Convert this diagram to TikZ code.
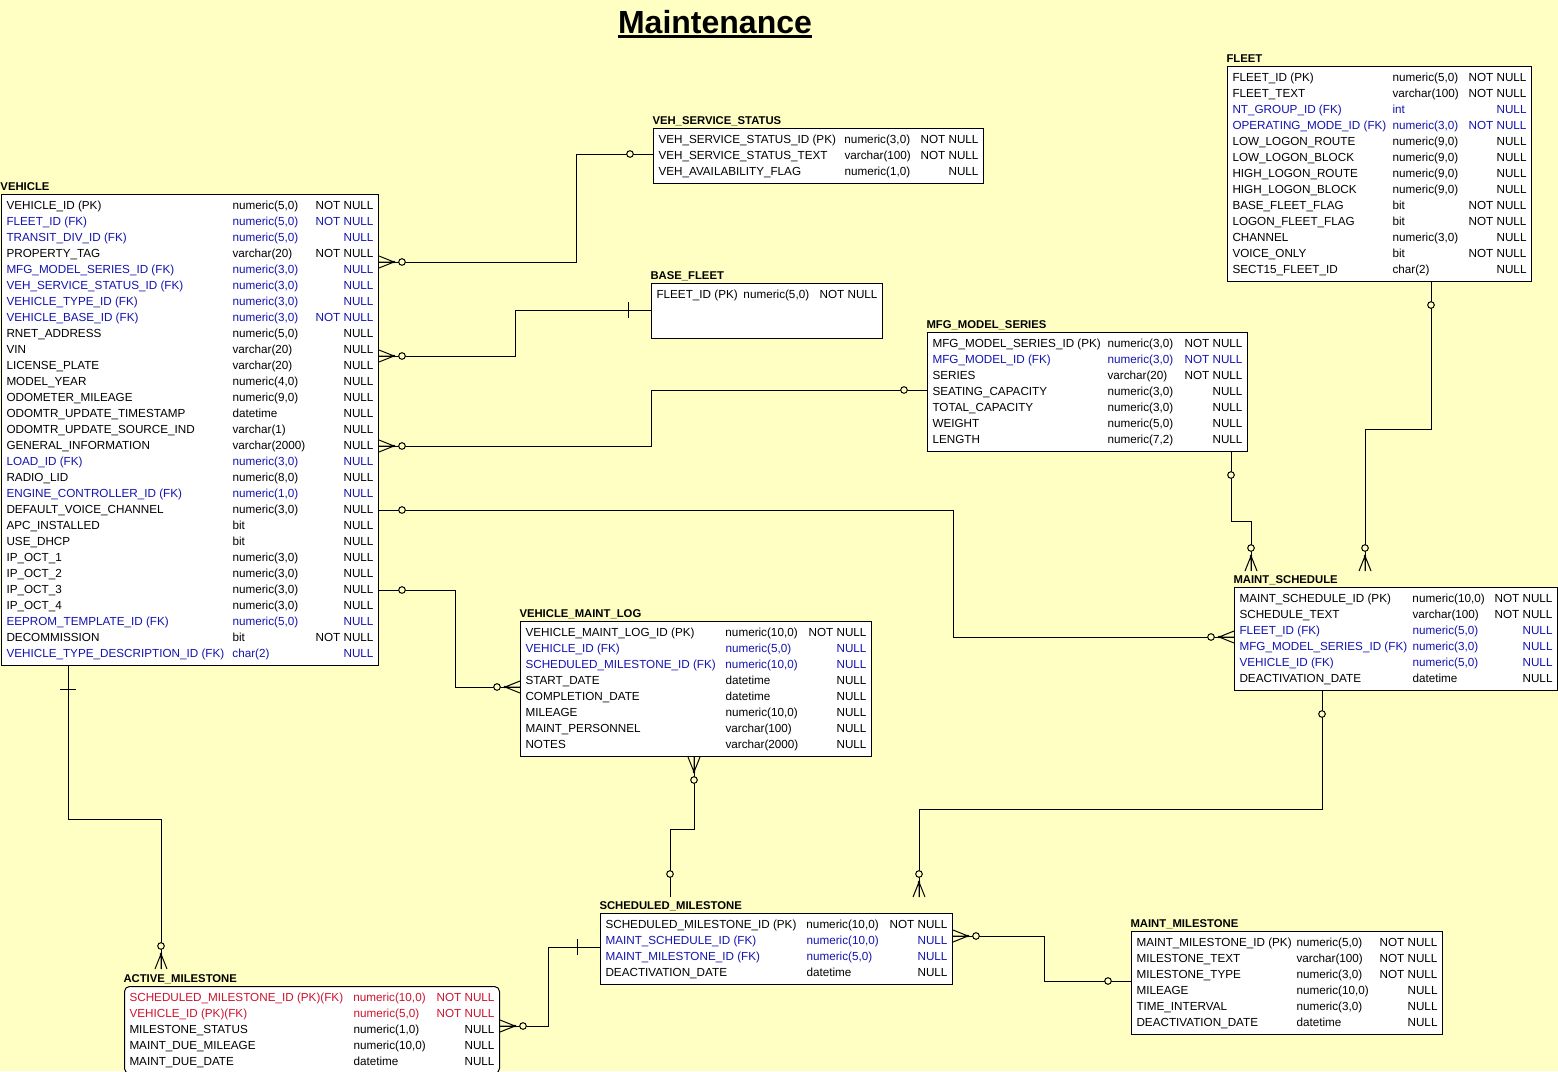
\documentclass[tikz,border=0pt]{standalone}
\usepackage{fontspec}
\setmainfont{Liberation Sans}
\usepackage{tikz}

\definecolor{bgc}{RGB}{255,255,196}
\definecolor{fkc}{RGB}{20,20,176}
\definecolor{pkc}{RGB}{204,20,48}

\newlength{\colA}
\newlength{\colB}
\newcommand{\rw}[4][black]{\textcolor{#1}{\makebox[\colA][l]{#2}\rlap{#3}\makebox[\colB][r]{#4}}\\}

\tikzset{
  tbl/.style={draw, fill=white, inner xsep=5pt, inner ysep=3.5pt, anchor=north west, font=\fontsize{11.7}{16}\selectfont},
  cols/.code 2 args={\setlength{\colA}{#1pt}\setlength{\colB}{#2pt}},
  ttl/.style={anchor=base west, inner sep=0pt, font=\fontsize{11.3}{13}\selectfont\bfseries},
  crow/.pic={\draw (0,-6) -- (15,0) -- (0,6) (0,0) -- (15,0); \fill (15,0) circle (1.4pt); \draw[fill=bgc] (23,0) circle (3.3pt);},
  opt/.pic={\draw[fill=bgc] (23,0) circle (3.3pt);},
  one/.pic={\draw (23,-8) -- (23,8);}
}

\begin{document}
\begin{tikzpicture}[x=1pt,y=-1pt,line width=1pt]

\path[use as bounding box, fill=bgc] (0,0) rectangle (1558,1071);
\clip (0,0) rectangle (1558,1071);

\node[anchor=base, inner sep=0pt, font=\fontsize{32}{38}\selectfont\bfseries] (maint) at (715,33) {Maintenance};
\draw[line width=2.4pt] ([yshift=-3.5pt]maint.base west) -- ([yshift=-3.5pt]maint.base east);

% tables
\node[tbl, cols={226}{141}] (vehicle) at (1,194) {\begin{tabular}{@{}l@{}}
\rw{VEHICLE\_ID (PK)}{numeric(5,0)}{NOT NULL}
\rw[fkc]{FLEET\_ID (FK)}{numeric(5,0)}{NOT NULL}
\rw[fkc]{TRANSIT\_DIV\_ID (FK)}{numeric(5,0)}{NULL}
\rw{PROPERTY\_TAG}{varchar(20)}{NOT NULL}
\rw[fkc]{MFG\_MODEL\_SERIES\_ID (FK)}{numeric(3,0)}{NULL}
\rw[fkc]{VEH\_SERVICE\_STATUS\_ID (FK)}{numeric(3,0)}{NULL}
\rw[fkc]{VEHICLE\_TYPE\_ID (FK)}{numeric(3,0)}{NULL}
\rw[fkc]{VEHICLE\_BASE\_ID (FK)}{numeric(3,0)}{NOT NULL}
\rw{RNET\_ADDRESS}{numeric(5,0)}{NULL}
\rw{VIN}{varchar(20)}{NULL}
\rw{LICENSE\_PLATE}{varchar(20)}{NULL}
\rw{MODEL\_YEAR}{numeric(4,0)}{NULL}
\rw{ODOMETER\_MILEAGE}{numeric(9,0)}{NULL}
\rw{ODOMTR\_UPDATE\_TIMESTAMP}{datetime}{NULL}
\rw{ODOMTR\_UPDATE\_SOURCE\_IND}{varchar(1)}{NULL}
\rw{GENERAL\_INFORMATION}{varchar(2000)}{NULL}
\rw[fkc]{LOAD\_ID (FK)}{numeric(3,0)}{NULL}
\rw{RADIO\_LID}{numeric(8,0)}{NULL}
\rw[fkc]{ENGINE\_CONTROLLER\_ID (FK)}{numeric(1,0)}{NULL}
\rw{DEFAULT\_VOICE\_CHANNEL}{numeric(3,0)}{NULL}
\rw{APC\_INSTALLED}{bit}{NULL}
\rw{USE\_DHCP}{bit}{NULL}
\rw{IP\_OCT\_1}{numeric(3,0)}{NULL}
\rw{IP\_OCT\_2}{numeric(3,0)}{NULL}
\rw{IP\_OCT\_3}{numeric(3,0)}{NULL}
\rw{IP\_OCT\_4}{numeric(3,0)}{NULL}
\rw[fkc]{EEPROM\_TEMPLATE\_ID (FK)}{numeric(5,0)}{NULL}
\rw{DECOMMISSION}{bit}{NOT NULL}
\rw[fkc]{VEHICLE\_TYPE\_DESCRIPTION\_ID (FK)}{char(2)}{NULL}
\end{tabular}};
\node[ttl] (vehicle-t) at ([shift={(-1,-4)}]vehicle.north west) {VEHICLE};

\node[tbl, cols={186}{134}] (vss) at (653,128) {\begin{tabular}{@{}l@{}}
\rw{VEH\_SERVICE\_STATUS\_ID (PK)}{numeric(3,0)}{NOT NULL}
\rw{VEH\_SERVICE\_STATUS\_TEXT}{varchar(100)}{NOT NULL}
\rw{VEH\_AVAILABILITY\_FLAG}{numeric(1,0)}{NULL}
\end{tabular}};
\node[ttl] (vss-t) at ([shift={(-1,-4)}]vss.north west) {VEH\_SERVICE\_STATUS};

\node[tbl, cols={87}{134}] (bfleet) at (651,283) {\begin{tabular}{@{}l@{}}
\rw{FLEET\_ID (PK)}{numeric(5,0)}{NOT NULL}
\rw{}{}{}
\rw{}{}{}
\end{tabular}};
\node[ttl] (bfleet-t) at ([shift={(-1,-4)}]bfleet.north west) {BASE\_FLEET};

\node[tbl, cols={175}{135}] (mfg) at (927,332) {\begin{tabular}{@{}l@{}}
\rw{MFG\_MODEL\_SERIES\_ID (PK)}{numeric(3,0)}{NOT NULL}
\rw[fkc]{MFG\_MODEL\_ID (FK)}{numeric(3,0)}{NOT NULL}
\rw{SERIES}{varchar(20)}{NOT NULL}
\rw{SEATING\_CAPACITY}{numeric(3,0)}{NULL}
\rw{TOTAL\_CAPACITY}{numeric(3,0)}{NULL}
\rw{WEIGHT}{numeric(5,0)}{NULL}
\rw{LENGTH}{numeric(7,2)}{NULL}
\end{tabular}};
\node[ttl] (mfg-t) at ([shift={(-1,-4)}]mfg.north west) {MFG\_MODEL\_SERIES};

\node[tbl, cols={160}{134}] (fleet) at (1227,66) {\begin{tabular}{@{}l@{}}
\rw{FLEET\_ID (PK)}{numeric(5,0)}{NOT NULL}
\rw{FLEET\_TEXT}{varchar(100)}{NOT NULL}
\rw[fkc]{NT\_GROUP\_ID (FK)}{int}{NULL}
\rw[fkc]{OPERATING\_MODE\_ID (FK)}{numeric(3,0)}{NOT NULL}
\rw{LOW\_LOGON\_ROUTE}{numeric(9,0)}{NULL}
\rw{LOW\_LOGON\_BLOCK}{numeric(9,0)}{NULL}
\rw{HIGH\_LOGON\_ROUTE}{numeric(9,0)}{NULL}
\rw{HIGH\_LOGON\_BLOCK}{numeric(9,0)}{NULL}
\rw{BASE\_FLEET\_FLAG}{bit}{NOT NULL}
\rw{LOGON\_FLEET\_FLAG}{bit}{NOT NULL}
\rw{CHANNEL}{numeric(3,0)}{NULL}
\rw{VOICE\_ONLY}{bit}{NOT NULL}
\rw{SECT15\_FLEET\_ID}{char(2)}{NULL}
\end{tabular}};
\node[ttl] (fleet-t) at ([shift={(-1,-4)}]fleet.north west) {FLEET};

\node[tbl, cols={173}{140}] (msched) at (1234,587) {\begin{tabular}{@{}l@{}}
\rw{MAINT\_SCHEDULE\_ID (PK)}{numeric(10,0)}{NOT NULL}
\rw{SCHEDULE\_TEXT}{varchar(100)}{NOT NULL}
\rw[fkc]{FLEET\_ID (FK)}{numeric(5,0)}{NULL}
\rw[fkc]{MFG\_MODEL\_SERIES\_ID (FK)}{numeric(3,0)}{NULL}
\rw[fkc]{VEHICLE\_ID (FK)}{numeric(5,0)}{NULL}
\rw{DEACTIVATION\_DATE}{datetime}{NULL}
\end{tabular}};
\node[ttl] (msched-t) at ([shift={(-1,-4)}]msched.north west) {MAINT\_SCHEDULE};

\node[tbl, cols={200}{141}] (vmlog) at (520,621) {\begin{tabular}{@{}l@{}}
\rw{VEHICLE\_MAINT\_LOG\_ID (PK)}{numeric(10,0)}{NOT NULL}
\rw[fkc]{VEHICLE\_ID (FK)}{numeric(5,0)}{NULL}
\rw[fkc]{SCHEDULED\_MILESTONE\_ID (FK)}{numeric(10,0)}{NULL}
\rw{START\_DATE}{datetime}{NULL}
\rw{COMPLETION\_DATE}{datetime}{NULL}
\rw{MILEAGE}{numeric(10,0)}{NULL}
\rw{MAINT\_PERSONNEL}{varchar(100)}{NULL}
\rw{NOTES}{varchar(2000)}{NULL}
\end{tabular}};
\node[ttl] (vmlog-t) at ([shift={(-1,-4)}]vmlog.north west) {VEHICLE\_MAINT\_LOG};

\node[tbl, cols={201}{141}] (smile) at (600,913) {\begin{tabular}{@{}l@{}}
\rw{SCHEDULED\_MILESTONE\_ID (PK)}{numeric(10,0)}{NOT NULL}
\rw[fkc]{MAINT\_SCHEDULE\_ID (FK)}{numeric(10,0)}{NULL}
\rw[fkc]{MAINT\_MILESTONE\_ID (FK)}{numeric(5,0)}{NULL}
\rw{DEACTIVATION\_DATE}{datetime}{NULL}
\end{tabular}};
\node[ttl] (smile-t) at ([shift={(-1,-4)}]smile.north west) {SCHEDULED\_MILESTONE};

\node[tbl, cols={160}{141}] (mmile) at (1131,931) {\begin{tabular}{@{}l@{}}
\rw{MAINT\_MILESTONE\_ID (PK)}{numeric(5,0)}{NOT NULL}
\rw{MILESTONE\_TEXT}{varchar(100)}{NOT NULL}
\rw{MILESTONE\_TYPE}{numeric(3,0)}{NOT NULL}
\rw{MILEAGE}{numeric(10,0)}{NULL}
\rw{TIME\_INTERVAL}{numeric(3,0)}{NULL}
\rw{DEACTIVATION\_DATE}{datetime}{NULL}
\end{tabular}};
\node[ttl] (mmile-t) at ([shift={(-1,-4)}]mmile.north west) {MAINT\_MILESTONE};

\node[tbl, cols={224}{141}, rounded corners=5pt] (amile) at (124,986) {\begin{tabular}{@{}l@{}}
\rw[pkc]{SCHEDULED\_MILESTONE\_ID (PK)(FK)}{numeric(10,0)}{NOT NULL}
\rw[pkc]{VEHICLE\_ID (PK)(FK)}{numeric(5,0)}{NOT NULL}
\rw{MILESTONE\_STATUS}{numeric(1,0)}{NULL}
\rw{MAINT\_DUE\_MILEAGE}{numeric(10,0)}{NULL}
\rw{MAINT\_DUE\_DATE}{datetime}{NULL}
\end{tabular}};
\node[ttl] (amile-t) at ([shift={(-1,-4)}]amile.north west) {ACTIVE\_MILESTONE};

% relationships
\draw ([yshift=-68pt]vehicle.north east) coordinate (r1a) -- ++(197,0) |- ([yshift=-26pt]vss.north west) coordinate (r1b);
\draw ([yshift=-162pt]vehicle.north east) coordinate (r2a) -- ++(136,0) |- ([yshift=-27pt]bfleet.north west) coordinate (r2b);
\draw ([yshift=-252pt]vehicle.north east) coordinate (r3a) -- ++(272,0) |- ([yshift=-58pt]mfg.north west) coordinate (r3b);
\draw ([yshift=-316pt]vehicle.north east) coordinate (r4a) -- ++(574,0) |- ([yshift=-50pt]msched.north west) coordinate (r4b);
\draw ([yshift=-396pt]vehicle.north east) coordinate (r5a) -- ++(76,0) |- ([yshift=-66pt]vmlog.north west) coordinate (r5b);
\draw ([xshift=67pt]vehicle.south west) coordinate (r6a) -- ++(0,153) -| ([xshift=37pt,yshift=17pt]amile.north west) coordinate (r6b);
\draw ([xshift=-101pt]fleet.south east) coordinate (r7a) -- ++(0,147) -| ([xshift=131pt,yshift=16pt]msched.north west) coordinate (r7b);
\draw ([xshift=-17pt]mfg.south east) coordinate (r8a) -- ++(0,69) -| ([xshift=17pt,yshift=16pt]msched.north west) coordinate (r8b);
\draw ([xshift=88pt]msched.south west) coordinate (r9a) -- ++(0,118) -| ([xshift=319pt,yshift=16pt]smile.north west) coordinate (r9b);
\draw ([xshift=174pt]vmlog.south west) coordinate (r10a) -- ++(0,72) -| ([xshift=70pt,yshift=16pt]smile.north west) coordinate (r10b);
\draw ([yshift=-23pt]smile.north east) coordinate (r11a) -- ++(91,0) |- ([yshift=-50pt]mmile.north west) coordinate (r11b);
\draw ([yshift=-40pt]amile.north east) coordinate (r12a) -- ++(48,0) |- ([yshift=-34pt]smile.north west) coordinate (r12b);

% line ends
\path (r1a) pic {crow} (r1b) pic[rotate=180] {opt};
\path (r2a) pic {crow} (r2b) pic[rotate=180] {one};
\path (r3a) pic {crow} (r3b) pic[rotate=180] {opt};
\path (r4a) pic {opt} (r4b) pic[rotate=180] {crow};
\path (r5a) pic {opt} (r5b) pic[rotate=180] {crow};
\path (r6a) pic[rotate=-90] {one} (r6b) pic[rotate=90] {crow};
\path (r7a) pic[rotate=-90] {opt} (r7b) pic[rotate=90] {crow};
\path (r8a) pic[rotate=-90] {opt} (r8b) pic[rotate=90] {crow};
\path (r9a) pic[rotate=-90] {opt} (r9b) pic[rotate=90] {crow};
\path (r10a) pic[rotate=-90] {crow} (r10b) pic[rotate=90] {opt};
\path (r11a) pic {crow} (r11b) pic[rotate=180] {opt};
\path (r12a) pic {crow} (r12b) pic[rotate=180] {one};

\end{tikzpicture}
\end{document}
